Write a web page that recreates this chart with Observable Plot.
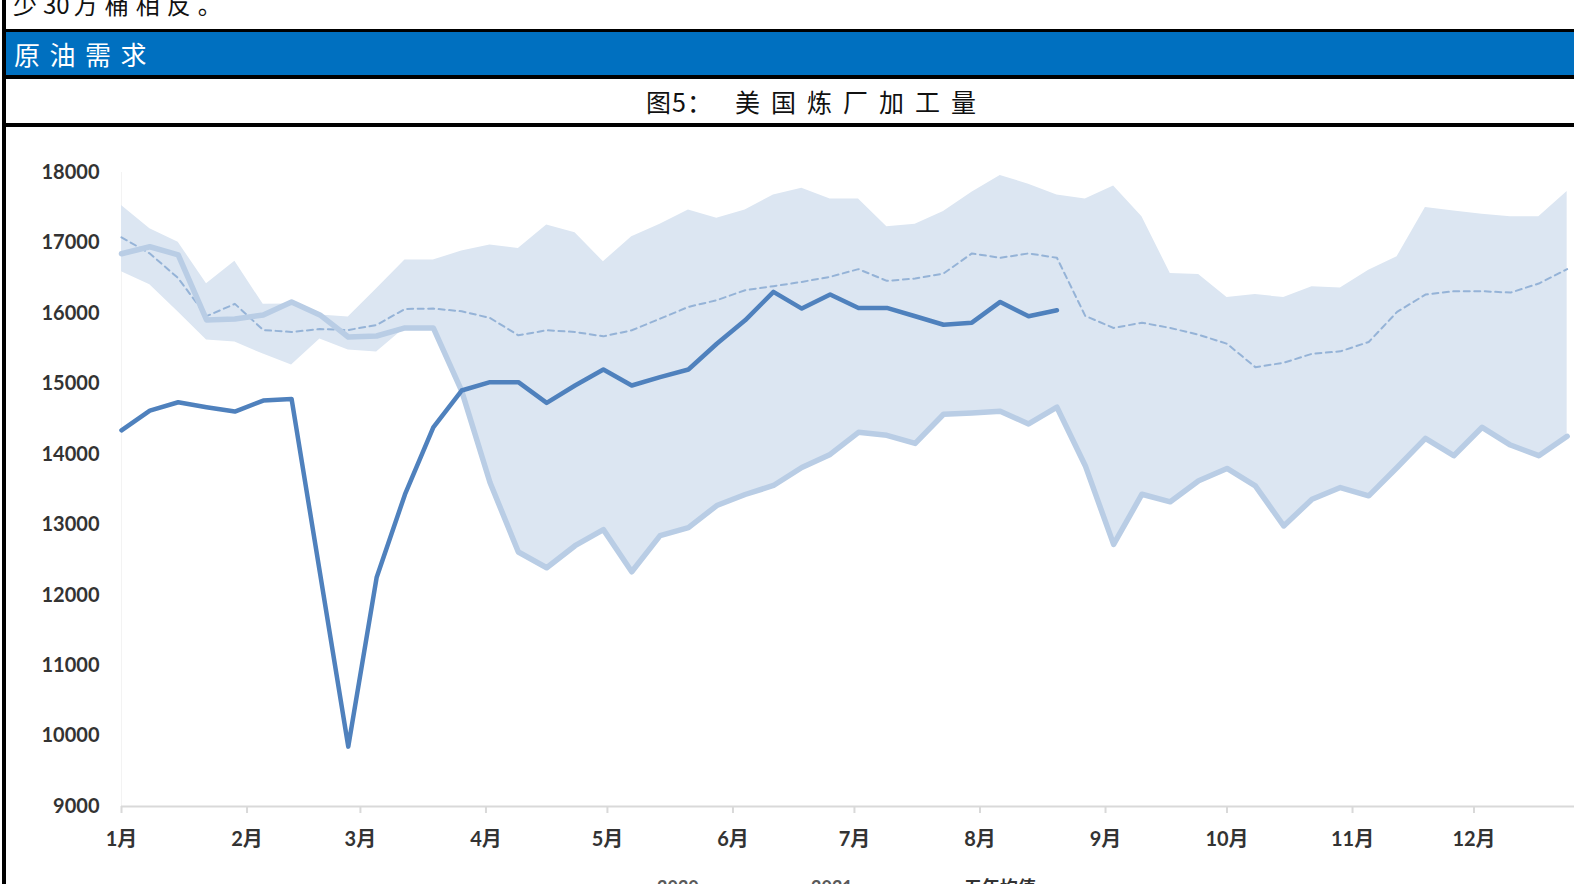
<!DOCTYPE html>
<html>
<head>
<meta charset="utf-8">
<script src="https://cdn.jsdelivr.net/npm/d3@7"></script>
<script src="https://cdn.jsdelivr.net/npm/@observablehq/plot@0.6"></script>
<style>
  html, body { margin: 0; padding: 0; background: #fff; overflow: hidden; width: 1574px; height: 884px; }
  body { position: relative; font-family: "Noto Sans CJK SC", "Noto Sans", sans-serif; }
  .abs { position: absolute; }
  .hline { position: absolute; left: 2px; width: 1620px; background: #000; }
  #chart { position: absolute; left: 0; top: 127px; width: 1610px; }
  #chart svg { max-width: none !important; width: 1610px; height: 751px; }
  #legend { position: absolute; left: 0; top: 878px; width: 1574px; height: 30px; font-family: Lato, "Noto Sans CJK SC", sans-serif; font-weight: bold; font-size: 18px; line-height: 18px; }
  #legend .item { position: absolute; top: 0; white-space: nowrap; }
  #legend .sw { position: absolute; top: 9px; width: 40px; height: 0; }
</style>
</head>
<body>
<div class="abs" style="left:13px; top:-8px; font-size:24px; line-height:24px; color:#111; white-space:nowrap;"><span style="letter-spacing:6px;">少</span>30<span style="letter-spacing:7px; margin-left:4px;">万桶相反。</span></div>
<div class="hline" style="top:29px; height:3px;"></div>
<div class="abs" style="left:2px; top:32px; width:1620px; height:43px; background:#0070C0;"></div>
<div class="abs" style="left:14px; top:32px; height:43px; line-height:43px; font-size:26px; letter-spacing:9.5px; color:#fff; white-space:nowrap;">原油需求</div>
<div class="hline" style="top:75px; height:4px;"></div>
<div class="abs" style="left:646px; top:80px; height:43px; line-height:43px; font-size:25px; color:#111; white-space:nowrap;"><span style="letter-spacing:1px;">图5：</span></div>
<div class="abs" style="left:735px; top:80px; height:43px; line-height:43px; font-size:25px; letter-spacing:11px; color:#111; white-space:nowrap;">美国炼厂加工量</div>
<div class="hline" style="top:123px; height:4px;"></div>
<div id="chart"></div>
<div id="legend"></div>
<div class="abs" style="left:2px; top:0; width:4px; height:884px; background:#000;"></div>
<script>
// ---- data (weekly, starting first week of January) ----
const monthLabels = ["1月","2月","3月","4月","5月","6月","7月","8月","9月","10月","11月","12月"];
const yTicks = [9000,10000,11000,12000,13000,14000,15000,16000,17000,18000];
const seriesNames = ["2020", "2021", "五年均值"];

const y2021 = [14340,14620,14739,14668,14606,14763,14786,12320,9850,12250,
               13430,14383,14905,15024,15024,14729,14976,15204,14976,15095,
               15204,15569,15902,16305,16068,16267,16077,16077,15959,15839,
               15868,16163,15959,16045];

const y2020 = [16846,16946,16832,15907,15921,15978,16163,15978,15665,15679,
               15793,15793,14900,13600,12613,12389,12702,12930,12332,12845,
               12959,13272,13429,13557,13813,13998,14312,14269,14155,14568,
               14587,14611,14430,14668,13838,12721,13433,13325,13624,13799,
               13552,12983,13362,13528,13410,13813,14226,13980,14383,14131,
               13980,14255];

const avg5 = [17080,16850,16500,15960,16135,15764,15736,15778,15764,15835,
              16063,16068,16030,15935,15689,15760,15736,15674,15760,15925,
              16092,16187,16329,16386,16447,16519,16628,16462,16495,16566,
              16851,16789,16851,16789,15964,15793,15868,15793,15697,15569,
              15237,15299,15427,15461,15594,16021,16267,16315,16315,16295,
              16424,16628];

const rangeMax = [17530,17203,17010,16419,16740,16128,16135,15978,15950,16348,
                  16757,16757,16885,16970,16922,17255,17146,16733,17089,17264,
                  17469,17350,17469,17682,17777,17625,17625,17231,17264,17445,
                  17720,17957,17834,17682,17625,17810,17373,16566,16552,16225,
                  16268,16225,16377,16362,16614,16804,17502,17455,17407,17373,
                  17373,17729];

const rangeMin = [16590,16405,16020,15622,15593,15422,15266,15636,15479,15451,
                  15793,15793,14900,13600,12613,12389,12702,12930,12332,12845,
                  12959,13272,13429,13557,13813,13998,14312,14269,14155,14568,
                  14587,14611,14430,14668,13838,12721,13433,13325,13624,13799,
                  13552,12983,13362,13528,13410,13813,14226,13980,14383,14131,
                  13980,14255];

// ---- build tables ----
const DAY = 864e5;
const start = Date.UTC(2021, 0, 1);
const weekDate = i => new Date(start + i * 7 * DAY);
const band = rangeMax.map((hi, i) => ({date: weekDate(i), hi, lo: rangeMin[i]}));
const avgRows = avg5.map((v, i) => ({date: weekDate(i), v}));
const rows2020 = y2020.map((v, i) => ({date: weekDate(i), v}));
const rows2021 = y2021.map((v, i) => ({date: weekDate(i), v}));
const monthDates = monthLabels.map((_, m) => new Date(Date.UTC(2021, m, 1)));

const colors = {band: "#dce6f2", avg: "#95b3d7", c2020: "#b9cde5", c2021: "#4f81bd"};
const tickFont = "Lato, 'Noto Sans CJK SC', sans-serif";

const chart = Plot.plot({
  width: 1610,
  height: 751,
  marginLeft: 121,
  marginRight: 15,
  marginTop: 45,
  marginBottom: 72,
  style: {fontFamily: tickFont, background: "transparent", overflow: "visible", maxWidth: "none"},
  x: {type: "utc", domain: [new Date(start), new Date(Date.UTC(2021, 11, 31))]},
  y: {domain: [9000, 18000]},
  marks: [
    Plot.ruleX([new Date(start)], {stroke: "#f3f3f3", strokeWidth: 1}),
    Plot.areaY(band, {x: "date", y1: "lo", y2: "hi", fill: colors.band}),
    Plot.lineY(avgRows, {x: "date", y: "v", stroke: colors.avg, strokeWidth: 2, strokeDasharray: "6,4.5"}),
    Plot.lineY(rows2020, {x: "date", y: "v", stroke: colors.c2020, strokeWidth: 5.5, strokeLinejoin: "round"}),
    Plot.lineY(rows2021, {x: "date", y: "v", stroke: colors.c2021, strokeWidth: 4.5, strokeLinejoin: "round", strokeLinecap: "round"}),
    Plot.ruleY([9000], {stroke: "#d9d9d9", strokeWidth: 2}),
    Plot.axisX({ticks: monthDates, tickFormat: d => monthLabels[d.getUTCMonth()], tickSize: 7, tickPadding: 18,
                stroke: "#d9d9d9", strokeWidth: 2, fill: "#333", fontSize: 20, fontWeight: "bold", label: null}),
    Plot.axisY({ticks: yTicks, tickFormat: d => String(d), tickSize: 0, tickPadding: 22,
                fill: "#333", fontSize: 20, fontWeight: "bold", label: null})
  ]
});
document.getElementById("chart").appendChild(chart);

// ---- legend (below the SVG) ----
const legend = document.getElementById("legend");
const legendItems = [
  {name: seriesNames[0], swLeft: 605, txtLeft: 657, stroke: colors.c2020, width: 5, dash: "solid", color: "#595959"},
  {name: seriesNames[1], swLeft: 757, txtLeft: 811, stroke: colors.c2021, width: 4, dash: "solid", color: "#595959"},
  {name: seriesNames[2], swLeft: 915, txtLeft: 964, stroke: colors.avg, width: 2, dash: "dashed", color: "#333"}
];
legendItems.forEach(it => {
  const sw = document.createElement("div");
  sw.className = "sw";
  sw.style.left = it.swLeft + "px";
  sw.style.borderTop = `${it.width}px ${it.dash} ${it.stroke}`;
  legend.appendChild(sw);
  const t = document.createElement("div");
  t.className = "item";
  t.style.left = it.txtLeft + "px";
  t.style.color = it.color;
  t.textContent = it.name;
  legend.appendChild(t);
});
</script>
</body>
</html>
